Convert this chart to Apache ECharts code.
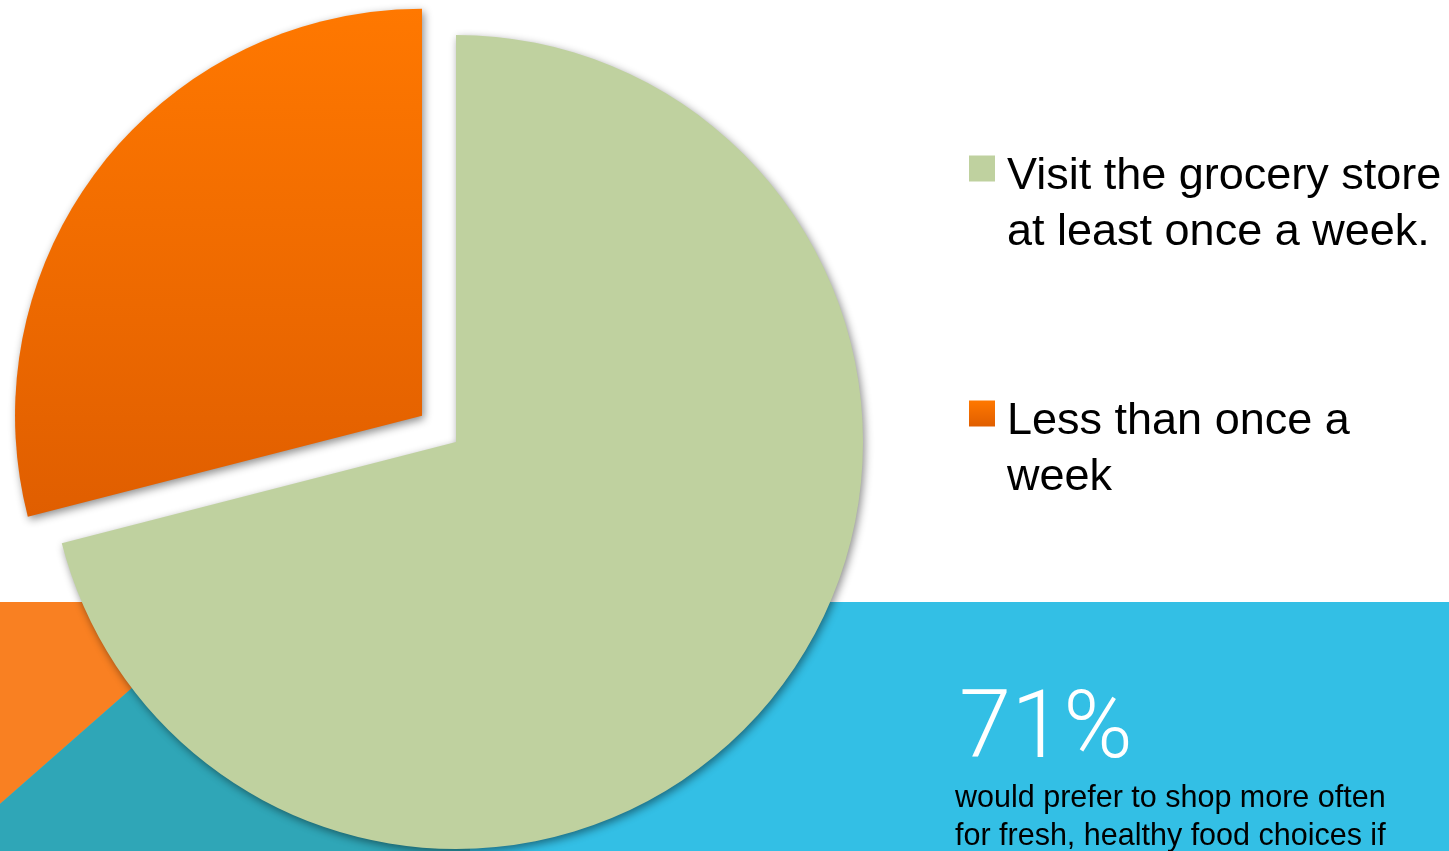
<!DOCTYPE html>
<html>
<head>
<meta charset="utf-8">
<title>Grocery store visits</title>
<script src="https://cdn.jsdelivr.net/npm/echarts@6/dist/echarts.min.js"></script>
<style>
  html, body { margin: 0; padding: 0; background: #ffffff; }
  #chart { width: 1449px; height: 851px; }
</style>
</head>
<body>
<div id="chart"></div>
<script>
// Survey answers: how often people visit the grocery store
const categories = ['Visit the grocery store at least once a week.', 'Less than once a week'];
const legendLines = [
  ['Visit the grocery store', 'at least once a week.'],
  ['Less than once a', 'week']
];
const shares = [71, 29];
const headlineValue = '71%';
const headlineText = 'would prefer to shop more often\nfor fresh, healthy food choices if';

const sliceColors = [
  '#BFD19F',
  { type: 'linear', x: 0, y: 0, x2: 0, y2: 1,
    colorStops: [{ offset: 0, color: '#FF7800' }, { offset: 1, color: '#E05E00' }] }
];

const chart = echarts.init(document.getElementById('chart'), null, { renderer: 'canvas' });

const option = {
  animation: false,
  backgroundColor: '#ffffff',
  graphic: [
    // lower blue band
    { type: 'rect', z: -10, shape: { x: 0, y: 602, width: 1449, height: 249 }, style: { fill: '#33BFE5' } },
    // orange wedge on the left of the band
    { type: 'polygon', z: -9, shape: { points: [[0, 602], [230, 602], [0, 804]] }, style: { fill: '#F98022' } },
    // teal area under the pie
    { type: 'polygon', z: -9, shape: { points: [[0, 804], [230, 602], [470, 602], [470, 851], [0, 851]] }, style: { fill: '#2FA6B7' } },
    {
      type: 'text', left: 959, top: 686, z: 5,
      style: { text: headlineValue, font: '300 94px Roboto', fill: '#ffffff' }
    },
    {
      type: 'text', left: 955, top: 780, z: 5,
      style: { text: headlineText, font: '30.5px "Liberation Sans"', lineHeight: 38, fill: '#000000' }
    }
  ],
  legend: {
    orient: 'vertical',
    left: 969,
    top: 112,
    padding: 0,
    itemWidth: 26,
    itemHeight: 26,
    itemGap: 102,
    icon: 'rect',
    selectedMode: false,
    data: categories,
    // a thin spacer line above each label keeps the swatch level with the first text line
    formatter: function (name) {
      const lines = legendLines[categories.indexOf(name)];
      return '{gap| }\n' + lines.map(function (l) { return '{txt|' + l + '}'; }).join('\n');
    },
    textStyle: {
      rich: {
        gap: { fontSize: 1, lineHeight: 72 },
        txt: { fontFamily: '"Liberation Sans"', fontSize: 45, lineHeight: 56, color: '#000000', padding: [0, 0, 0, 7] }
      }
    }
  },
  series: [{
    type: 'pie',
    center: [456, 442],
    radius: 407,
    startAngle: 90,
    clockwise: true,
    selectedMode: 'single',
    selectedOffset: 43,
    label: { show: false },
    labelLine: { show: false },
    emphasis: { disabled: true },
    itemStyle: {
      borderWidth: 0,
      shadowBlur: 8,
      shadowOffsetX: 2,
      shadowOffsetY: 3,
      shadowColor: 'rgba(0,0,0,0.45)'
    },
    data: categories.map(function (name, i) {
      return {
        name: name,
        value: shares[i],
        selected: i === 1,
        itemStyle: { color: sliceColors[i] }
      };
    })
  }]
};

chart.setOption(option);
</script>
</body>
</html>
